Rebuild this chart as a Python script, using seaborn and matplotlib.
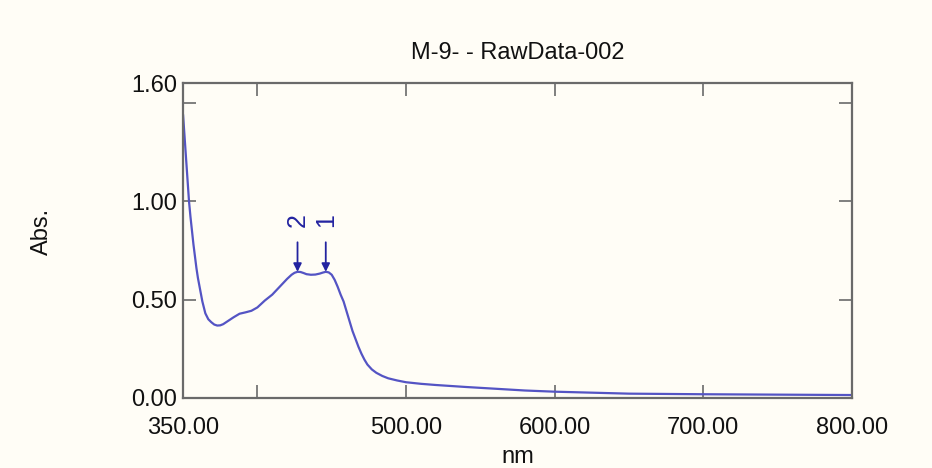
import numpy as np
import matplotlib
matplotlib.use("Agg")
import matplotlib.pyplot as plt
import seaborn as sns

# spectrum
wavelength = [350, 351, 352, 353, 354, 355, 356, 357, 358, 359, 360, 361, 362, 363, 364,
              365, 367, 369, 371, 373, 375, 377, 380, 384, 388, 392, 396, 400, 405,
              410, 415, 420, 423, 425, 427, 429, 431, 433, 436, 439, 442, 444, 446,
              448, 450, 452, 454, 456, 458, 460, 462, 464, 466, 468, 470, 472, 474,
              477, 480, 484, 488, 494, 500, 510, 520, 540, 560, 580, 600, 650, 700,
              750, 800]
absorbance = [1.44, 1.33, 1.22, 1.11, 1.00, 0.92, 0.85, 0.78, 0.72, 0.66, 0.61, 0.57,
              0.53, 0.49, 0.46, 0.43, 0.40, 0.385, 0.373, 0.368, 0.369, 0.375, 0.39,
              0.41, 0.428, 0.435, 0.443, 0.46, 0.495, 0.525, 0.565, 0.605, 0.626, 0.636,
              0.641, 0.640, 0.635, 0.629, 0.626, 0.627, 0.632, 0.637, 0.641, 0.638,
              0.626, 0.600, 0.565, 0.525, 0.490, 0.44, 0.39, 0.34, 0.30, 0.26, 0.225,
              0.195, 0.17, 0.145, 0.128, 0.112, 0.100, 0.089, 0.080, 0.072, 0.066,
              0.056, 0.047, 0.038, 0.032, 0.022, 0.019, 0.017, 0.015]

# picked peaks
peak_nm = [446, 427]
peak_abs = [0.641, 0.641]
peak_labels = ["1", "2"]

x_ticks = [350, 400, 500, 600, 700, 800]
x_ticklabels = ["350.00", "", "500.00", "600.00", "700.00", "800.00"]
y_ticks = [0.0, 0.5, 1.0, 1.5, 1.6]
y_ticklabels = ["0.00", "0.50", "1.00", "", "1.60"]

BG = "#fffdf6"
FRAME = "#6a6a6a"
LINE = "#5454c4"
PEAK = "#2323a0"

sns.set_theme(style="white")
plt.rcParams["font.family"] = ["Liberation Sans", "DejaVu Sans"]

fig = plt.figure(figsize=(9.32, 4.68), dpi=100, facecolor=BG)
ax = fig.add_axes([0.1964, 0.1496, 0.7178, 0.673])
ax.set_facecolor(BG)

sns.lineplot(x=wavelength, y=absorbance, ax=ax, color=LINE, linewidth=1.6)

# peak markers
for px, py, lab in zip(peak_nm, peak_abs, peak_labels):
    ax.annotate("", xy=(px, py), xytext=(px, py + 0.15),
                arrowprops=dict(arrowstyle="-|>", color=PEAK, lw=1.3,
                                mutation_scale=12, shrinkA=0, shrinkB=0))
    ax.text(px, py + 0.23, lab, color=PEAK, fontsize=18, rotation=90,
            ha="center", va="bottom")

ax.set_xlim(350, 800)
ax.set_ylim(0, 1.6)
ax.set_xticks(x_ticks)
ax.set_xticklabels(x_ticklabels)
ax.set_yticks(y_ticks)
ax.set_yticklabels(y_ticklabels)

ax.tick_params(axis="both", direction="in", length=9.5, width=1.2, color=FRAME,
               labelsize=17, labelcolor="#111111")
ax.tick_params(axis="x", top=True, bottom=True, pad=14)
ax.tick_params(axis="y", left=True, right=True, pad=4)

for s in ax.spines.values():
    s.set_color(FRAME)
    s.set_linewidth(1.6)

ax.set_title("M-9- - RawData-002", fontsize=17, color="#111111", pad=17)
ax.set_xlabel("nm", fontsize=17, color="#111111", labelpad=5)
ax.set_ylabel("Abs.", fontsize=17, color="#111111")
ax.yaxis.set_label_coords(-0.194, 0.53)

fig.savefig("out.png", dpi=100, facecolor=BG)
